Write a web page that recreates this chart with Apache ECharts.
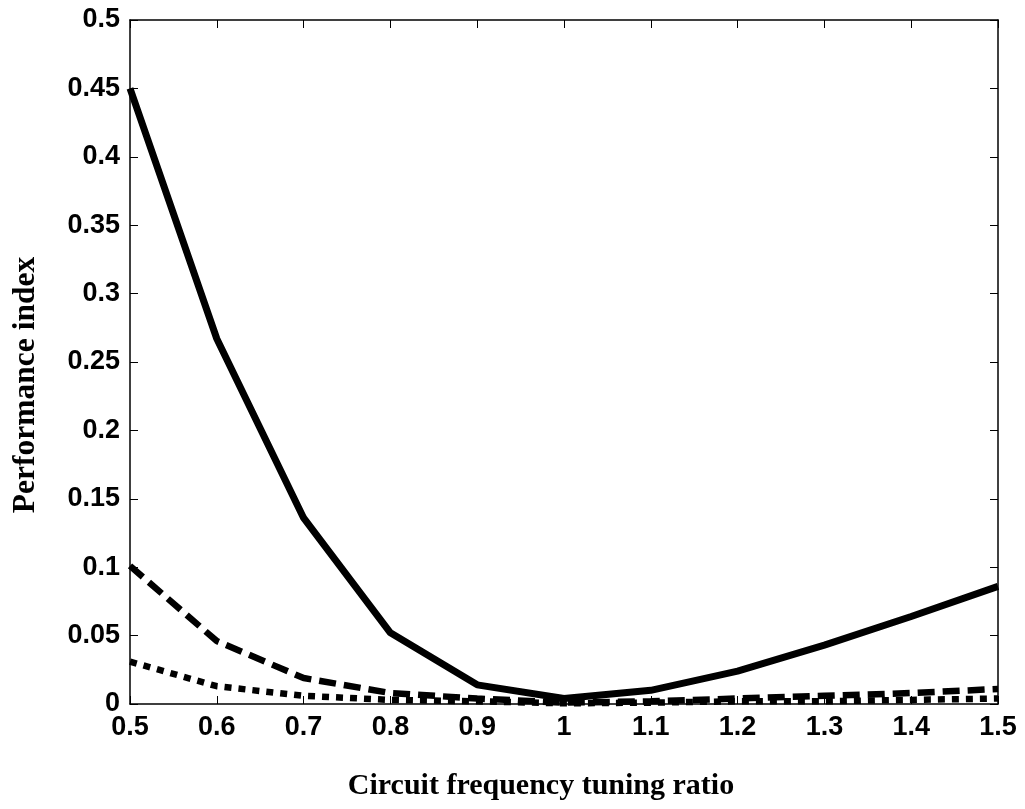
<!DOCTYPE html>
<html><head><meta charset="utf-8">
<script src="https://cdn.jsdelivr.net/npm/echarts@6/dist/echarts.min.js"></script>
<style>html,body{margin:0;padding:0;background:#fff}#c{width:1025px;height:809px}</style>
</head><body><div id="c"></div>
<script>
const ratios = [0.5,0.6,0.7,0.8,0.9,1.0,1.1,1.2,1.3,1.4,1.5];
const solidVals  = [0.450,0.267,0.136,0.052,0.014,0.004,0.010,0.024,0.043,0.064,0.086];
const dashedVals = [0.101,0.046,0.019,0.008,0.004,0.001,0.002,0.004,0.006,0.008,0.011];
const dottedVals = [0.031,0.013,0.006,0.003,0.002,0.0005,0.001,0.002,0.002,0.003,0.004];
const xTitle = 'Circuit frequency tuning ratio';
const yTitle = 'Performance index';

const pair = a => ratios.map((x,i)=>[x,a[i]]);
const fmt = v => String(parseFloat(Number(v).toFixed(2)));
const labelFont = {fontFamily:'"Liberation Sans", Arial, sans-serif', fontWeight:'bold', fontSize:27, color:'#000'};
const titleFontFamily = '"Liberation Serif", "Times New Roman", serif';
const axLine = {show:true, onZero:false, lineStyle:{color:'#000', width:1.5}};
const tick = {show:true, inside:true, length:8, lineStyle:{color:'#000', width:1}};

const chart = echarts.init(document.getElementById('c'), null, {renderer:'canvas'});
chart.setOption({
  animation:false,
  backgroundColor:'#fff',
  grid:{left:130, right:27, top:20, bottom:105},
  xAxis:[
    {type:'value', min:0.5, max:1.5, interval:0.1, position:'bottom',
     axisLine:axLine, axisTick:tick, splitLine:{show:false},
     axisLabel:Object.assign({margin:10, formatter:fmt}, labelFont)},
    {type:'value', min:0.5, max:1.5, interval:0.1, position:'top',
     axisLine:axLine, axisTick:tick, splitLine:{show:false}, axisLabel:{show:false}}
  ],
  yAxis:[
    {type:'value', min:0, max:0.5, interval:0.05, position:'left',
     axisLine:axLine, axisTick:tick, splitLine:{show:false},
     axisLabel:Object.assign({margin:10, formatter:fmt}, labelFont)},
    {type:'value', min:0, max:0.5, interval:0.05, position:'right',
     axisLine:axLine, axisTick:tick, splitLine:{show:false}, axisLabel:{show:false}}
  ],
  graphic:[
    {type:'text', x:541, y:786, style:{text:xTitle, fontFamily:titleFontFamily, fontWeight:'bold', fontSize:30, fill:'#000', align:'center', verticalAlign:'middle'}},
    {type:'text', x:26, y:385, rotation:Math.PI/2, style:{text:yTitle, fontFamily:titleFontFamily, fontWeight:'bold', fontSize:31.5, fill:'#000', align:'center', verticalAlign:'middle'}}
  ],
  series:[
    {type:'line', data:pair(solidVals), showSymbol:false, lineStyle:{color:'#000', width:7}},
    {type:'line', data:pair(dashedVals), showSymbol:false, lineStyle:{color:'#000', width:6.5, type:[17,8], cap:'butt'}},
    {type:'line', data:pair(dottedVals), showSymbol:false, lineStyle:{color:'#000', width:6.5, type:[7,7], cap:'butt'}}
  ]
});
</script></body></html>
